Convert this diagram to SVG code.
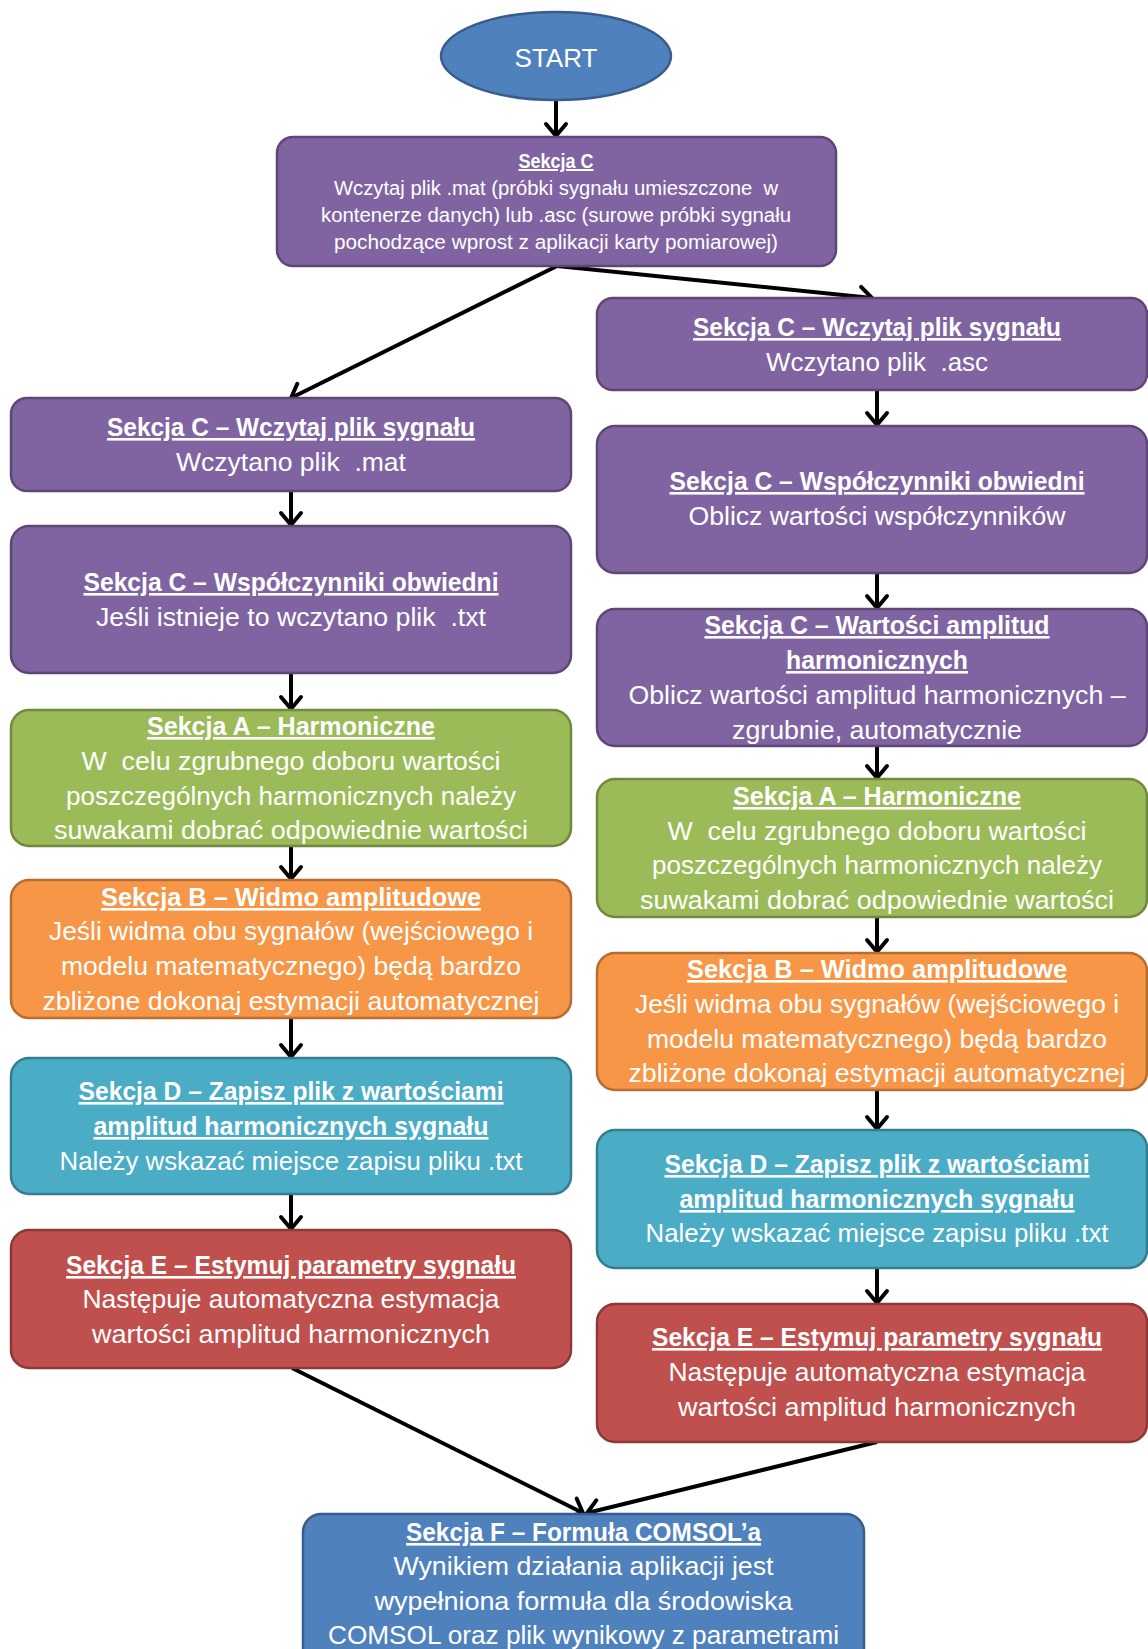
<svg xmlns="http://www.w3.org/2000/svg" width="1148" height="1649" viewBox="0 0 1148 1649">
  <style>
    text { font-family: "Liberation Sans", Arial, sans-serif; fill: #ffffff; text-anchor: middle; }
    .t { font-weight: bold; font-size: 26px; text-decoration: underline; }
    .b { font-size: 26px; }
    .s { font-size: 20px; }
    .st { font-size: 20px; font-weight: bold; text-decoration: underline; }
    .purple { fill: #8064a2; stroke: #5c4776; stroke-width: 2.5; }
    .green { fill: #9bbb59; stroke: #71893f; stroke-width: 2.5; }
    .orange { fill: #f79646; stroke: #b66d31; stroke-width: 2.5; }
    .teal { fill: #4bacc6; stroke: #357d91; stroke-width: 2.5; }
    .red { fill: #c0504d; stroke: #8c3836; stroke-width: 2.5; }
    .blue { fill: #4f81bd; stroke: #385d8a; stroke-width: 2.5; }
    .conn { fill: none; stroke: #000000; stroke-width: 4; marker-end: url(#arrow); }
  </style>
  <defs>
    <marker id="arrow" markerUnits="userSpaceOnUse" markerWidth="30" markerHeight="30" refX="15" refY="11" orient="auto" viewBox="0 0 30 22">
      <path d="M3,1 L15,11 L3,21" fill="none" stroke="#000000" stroke-width="4" stroke-linecap="round" stroke-linejoin="miter"/>
    </marker>
  </defs>

  <rect width="1148" height="1649" fill="#ffffff"/>

  <!-- connectors -->
  <g id="connectors">
    <path class="conn" d="M556,101 L556,136"/>
    <path class="conn" d="M557,266 L291,398"/>
    <path class="conn" d="M557,266 L872,298"/>
    <path class="conn" d="M291,492 L291,525"/>
    <path class="conn" d="M291,673 L291,709"/>
    <path class="conn" d="M291,847 L291,879"/>
    <path class="conn" d="M291,1018 L291,1057"/>
    <path class="conn" d="M291,1195 L291,1229"/>
    <path class="conn" d="M877,391 L877,425"/>
    <path class="conn" d="M877,574 L877,608"/>
    <path class="conn" d="M877,747 L877,778"/>
    <path class="conn" d="M877,917 L877,952"/>
    <path class="conn" d="M877,1091 L877,1129"/>
    <path class="conn" d="M877,1268 L877,1303"/>
    <path class="conn" d="M292,1368 L583,1513"/>
    <path class="conn" d="M877,1442 L587,1513"/>
  </g>

  <!-- start -->
  <g id="start">
    <ellipse class="blue" cx="556" cy="56" rx="115" ry="44"/>
    <text class="b" x="556" y="67">START</text>
  </g>

  <!-- load file -->
  <g id="load">
    <rect class="purple" x="277" y="137" width="559" height="129" rx="16"/>
    <text class="st" x="556" y="168" textLength="75" lengthAdjust="spacingAndGlyphs">Sekcja C</text>
    <text class="s" x="556" y="195" textLength="444" lengthAdjust="spacingAndGlyphs" xml:space="preserve">Wczytaj plik .mat (próbki sygnału umieszczone  w</text>
    <text class="s" x="556" y="222" textLength="470" lengthAdjust="spacingAndGlyphs">kontenerze danych) lub .asc (surowe próbki sygnału</text>
    <text class="s" x="556" y="249" textLength="444" lengthAdjust="spacingAndGlyphs">pochodzące wprost z aplikacji karty pomiarowej)</text>
  </g>

  <!-- left branch: .mat -->
  <g id="mat-read">
    <rect class="purple" x="11" y="398" width="560" height="93" rx="16"/>
    <text class="t" x="291" y="436" textLength="368" lengthAdjust="spacingAndGlyphs">Sekcja C – Wczytaj plik sygnału</text>
    <text class="b" x="291" y="471" textLength="230" lengthAdjust="spacingAndGlyphs" xml:space="preserve">Wczytano plik  .mat</text>
  </g>
  <g id="mat-envelope">
    <rect class="purple" x="11" y="526" width="560" height="147" rx="18"/>
    <text class="t" x="291" y="591" textLength="415" lengthAdjust="spacingAndGlyphs">Sekcja C – Współczynniki obwiedni</text>
    <text class="b" x="291" y="626" textLength="390" lengthAdjust="spacingAndGlyphs" xml:space="preserve">Jeśli istnieje to wczytano plik  .txt</text>
  </g>
  <g id="mat-harmonics">
    <rect class="green" x="11" y="710" width="560" height="136" rx="18"/>
    <text class="t" x="291" y="735" textLength="288" lengthAdjust="spacingAndGlyphs">Sekcja A – Harmoniczne</text>
    <text class="b" x="291" y="770" textLength="419" lengthAdjust="spacingAndGlyphs" xml:space="preserve">W  celu zgrubnego doboru wartości</text>
    <text class="b" x="291" y="805" textLength="450" lengthAdjust="spacingAndGlyphs">poszczególnych harmonicznych należy</text>
    <text class="b" x="291" y="839" textLength="474" lengthAdjust="spacingAndGlyphs">suwakami dobrać odpowiednie wartości</text>
  </g>
  <g id="mat-spectrum">
    <rect class="orange" x="11" y="880" width="560" height="138" rx="18"/>
    <text class="t" x="291" y="906" textLength="380" lengthAdjust="spacingAndGlyphs">Sekcja B – Widmo amplitudowe</text>
    <text class="b" x="291" y="940" textLength="484" lengthAdjust="spacingAndGlyphs">Jeśli widma obu sygnałów (wejściowego i</text>
    <text class="b" x="291" y="975" textLength="460" lengthAdjust="spacingAndGlyphs">modelu matematycznego) będą bardzo</text>
    <text class="b" x="291" y="1010" textLength="497" lengthAdjust="spacingAndGlyphs">zbliżone dokonaj estymacji automatycznej</text>
  </g>
  <g id="mat-save">
    <rect class="teal" x="11" y="1058" width="560" height="136" rx="18"/>
    <text class="t" x="291" y="1100" textLength="425" lengthAdjust="spacingAndGlyphs">Sekcja D – Zapisz plik z wartościami</text>
    <text class="t" x="291" y="1135" textLength="395" lengthAdjust="spacingAndGlyphs">amplitud harmonicznych sygnału</text>
    <text class="b" x="291" y="1170" textLength="463" lengthAdjust="spacingAndGlyphs">Należy wskazać miejsce zapisu pliku .txt</text>
  </g>
  <g id="mat-estimate">
    <rect class="red" x="11" y="1230" width="560" height="138" rx="18"/>
    <text class="t" x="291" y="1274" textLength="450" lengthAdjust="spacingAndGlyphs">Sekcja E – Estymuj parametry sygnału</text>
    <text class="b" x="291" y="1308" textLength="417" lengthAdjust="spacingAndGlyphs">Następuje automatyczna estymacja</text>
    <text class="b" x="291" y="1343" textLength="398" lengthAdjust="spacingAndGlyphs">wartości amplitud harmonicznych</text>
  </g>

  <!-- right branch: .asc -->
  <g id="asc-read">
    <rect class="purple" x="597" y="298" width="550" height="92" rx="16"/>
    <text class="t" x="877" y="336" textLength="368" lengthAdjust="spacingAndGlyphs">Sekcja C – Wczytaj plik sygnału</text>
    <text class="b" x="877" y="371" textLength="222" lengthAdjust="spacingAndGlyphs" xml:space="preserve">Wczytano plik  .asc</text>
  </g>
  <g id="asc-envelope">
    <rect class="purple" x="597" y="426" width="550" height="147" rx="18"/>
    <text class="t" x="877" y="490" textLength="415" lengthAdjust="spacingAndGlyphs">Sekcja C – Współczynniki obwiedni</text>
    <text class="b" x="877" y="525" textLength="377" lengthAdjust="spacingAndGlyphs">Oblicz wartości współczynników</text>
  </g>
  <g id="asc-amplitudes">
    <rect class="purple" x="597" y="609" width="550" height="137" rx="18"/>
    <text class="t" x="877" y="634" textLength="345" lengthAdjust="spacingAndGlyphs">Sekcja C – Wartości amplitud</text>
    <text class="t" x="877" y="669" textLength="182" lengthAdjust="spacingAndGlyphs">harmonicznych</text>
    <text class="b" x="877" y="704" textLength="497" lengthAdjust="spacingAndGlyphs">Oblicz wartości amplitud harmonicznych –</text>
    <text class="b" x="877" y="739" textLength="290" lengthAdjust="spacingAndGlyphs">zgrubnie, automatycznie</text>
  </g>
  <g id="asc-harmonics">
    <rect class="green" x="597" y="779" width="550" height="138" rx="18"/>
    <text class="t" x="877" y="805" textLength="288" lengthAdjust="spacingAndGlyphs">Sekcja A – Harmoniczne</text>
    <text class="b" x="877" y="840" textLength="419" lengthAdjust="spacingAndGlyphs" xml:space="preserve">W  celu zgrubnego doboru wartości</text>
    <text class="b" x="877" y="874" textLength="450" lengthAdjust="spacingAndGlyphs">poszczególnych harmonicznych należy</text>
    <text class="b" x="877" y="909" textLength="474" lengthAdjust="spacingAndGlyphs">suwakami dobrać odpowiednie wartości</text>
  </g>
  <g id="asc-spectrum">
    <rect class="orange" x="597" y="953" width="550" height="137" rx="18"/>
    <text class="t" x="877" y="978" textLength="380" lengthAdjust="spacingAndGlyphs">Sekcja B – Widmo amplitudowe</text>
    <text class="b" x="877" y="1013" textLength="484" lengthAdjust="spacingAndGlyphs">Jeśli widma obu sygnałów (wejściowego i</text>
    <text class="b" x="877" y="1048" textLength="460" lengthAdjust="spacingAndGlyphs">modelu matematycznego) będą bardzo</text>
    <text class="b" x="877" y="1082" textLength="497" lengthAdjust="spacingAndGlyphs">zbliżone dokonaj estymacji automatycznej</text>
  </g>
  <g id="asc-save">
    <rect class="teal" x="597" y="1130" width="550" height="138" rx="18"/>
    <text class="t" x="877" y="1173" textLength="425" lengthAdjust="spacingAndGlyphs">Sekcja D – Zapisz plik z wartościami</text>
    <text class="t" x="877" y="1208" textLength="395" lengthAdjust="spacingAndGlyphs">amplitud harmonicznych sygnału</text>
    <text class="b" x="877" y="1242" textLength="463" lengthAdjust="spacingAndGlyphs">Należy wskazać miejsce zapisu pliku .txt</text>
  </g>
  <g id="asc-estimate">
    <rect class="red" x="597" y="1304" width="550" height="138" rx="18"/>
    <text class="t" x="877" y="1346" textLength="450" lengthAdjust="spacingAndGlyphs">Sekcja E – Estymuj parametry sygnału</text>
    <text class="b" x="877" y="1381" textLength="417" lengthAdjust="spacingAndGlyphs">Następuje automatyczna estymacja</text>
    <text class="b" x="877" y="1416" textLength="398" lengthAdjust="spacingAndGlyphs">wartości amplitud harmonicznych</text>
  </g>

  <!-- result -->
  <g id="comsol">
    <rect class="blue" x="303" y="1514" width="561" height="170" rx="18"/>
    <text class="t" x="583.5" y="1541" textLength="355" lengthAdjust="spacingAndGlyphs">Sekcja F – Formuła COMSOL’a</text>
    <text class="b" x="583.5" y="1575" textLength="380" lengthAdjust="spacingAndGlyphs">Wynikiem działania aplikacji jest</text>
    <text class="b" x="583.5" y="1610" textLength="418" lengthAdjust="spacingAndGlyphs">wypełniona formuła dla środowiska</text>
    <text class="b" x="583.5" y="1644" textLength="511" lengthAdjust="spacingAndGlyphs">COMSOL oraz plik wynikowy z parametrami</text>
  </g>
</svg>
